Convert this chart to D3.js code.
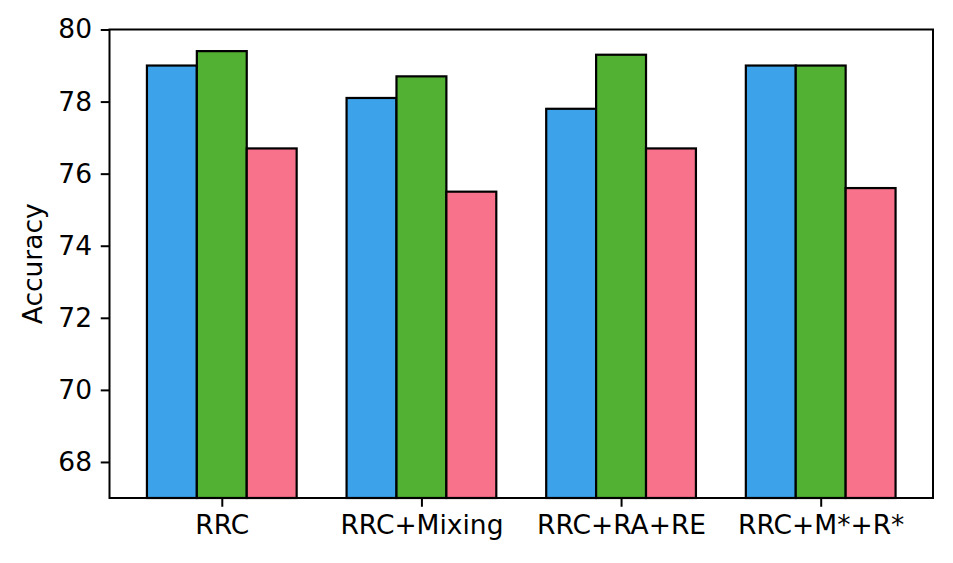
<!DOCTYPE html>
<html>
<head>
<meta charset="utf-8">
<script src="https://cdn.jsdelivr.net/npm/d3@7"></script>
<style>
  body { margin:0; background:#fff; }
  svg { display:block; font-family:"DejaVu Sans", sans-serif; }
</style>
</head>
<body>
<svg id="chart" width="953" height="563"></svg>
<script>
const categories = ["RRC", "RRC+Mixing", "RRC+RA+RE", "RRC+M*+R*"];
const seriesA = [79.0, 78.1, 77.8, 79.0];
const seriesB = [79.4, 78.7, 79.3, 79.0];
const seriesC = [76.7, 75.5, 76.7, 75.6];
const yTicks = [68, 70, 72, 74, 76, 78, 80];
const colors = ["#3ca2e9", "#52b032", "#f7728a"];

const W = 953, H = 563;
const margin = {top: 29.5, right: 20, bottom: 65, left: 109.5};
const width = 933 - margin.left;
const height = 498 - margin.top;
const fs = 26.5;

const svg = d3.select("#chart");
const g = svg.append("g").attr("transform", "translate(" + margin.left + "," + margin.top + ")");

const barW = 0.25;
const x = d3.scaleLinear().domain([-0.5625, 3.5625]).range([0, width]);
const y = d3.scaleLinear().domain([67, 80]).range([height, 0]);

const series = [seriesA, seriesB, seriesC];
series.forEach((vals, s) => {
  g.selectAll(".bar-" + s)
    .data(vals)
    .enter().append("rect")
    .attr("class", "bar-" + s)
    .attr("x", (d, i) => x(i + (s - 1) * barW - barW / 2))
    .attr("y", d => y(d))
    .attr("width", x(barW) - x(0))
    .attr("height", d => y(67) - y(d))
    .attr("fill", colors[s])
    .attr("stroke", "#000")
    .attr("stroke-width", 2.2);
});

// axes
const yAxis = g.append("g")
  .call(d3.axisLeft(y).tickValues(yTicks).tickSize(8.75).tickPadding(8.75).tickFormat(d3.format("d")));
const xAxis = g.append("g")
  .attr("transform", "translate(0," + height + ")")
  .call(d3.axisBottom(x).tickValues(d3.range(categories.length)).tickSize(8.75).tickPadding(8.75)
    .tickFormat(i => categories[i]));

[xAxis, yAxis].forEach(a => {
  a.select(".domain").remove();
  a.selectAll(".tick line").attr("stroke", "#000").attr("stroke-width", 2);
  a.selectAll(".tick text").attr("font-size", fs).attr("fill", "#000")
    .attr("font-family", "DejaVu Sans");
});

// frame
g.append("rect")
  .attr("x", 0).attr("y", 0)
  .attr("width", width).attr("height", height)
  .attr("fill", "none").attr("stroke", "#000").attr("stroke-width", 2);

svg.append("text")
  .attr("transform", "translate(42," + (margin.top + height / 2) + ") rotate(-90)")
  .attr("text-anchor", "middle")
  .attr("font-size", fs)
  .text("Accuracy");
</script>
</body>
</html>
